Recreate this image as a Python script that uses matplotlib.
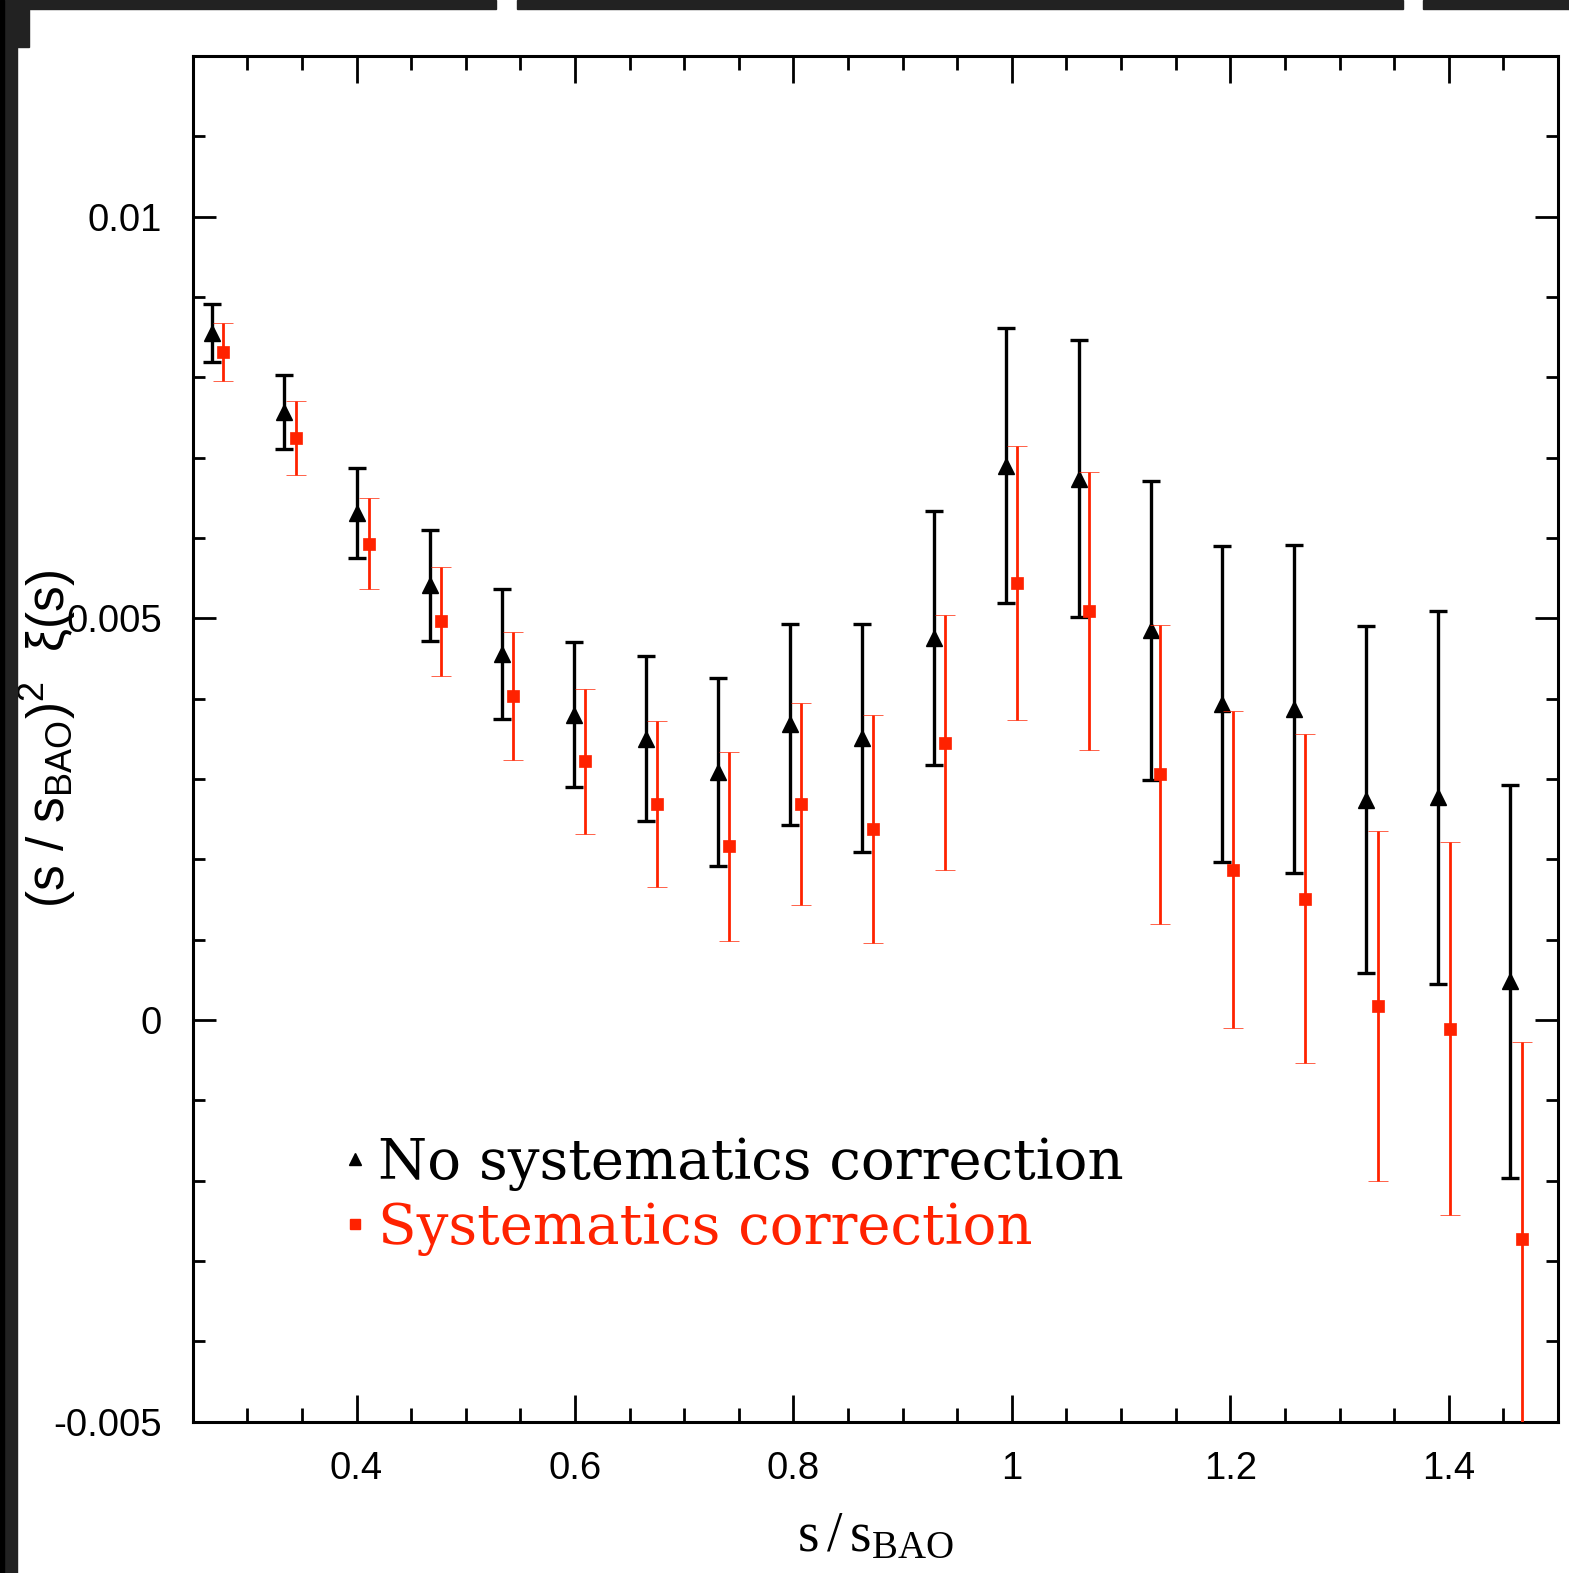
import matplotlib
matplotlib.use('Agg')
import matplotlib.pyplot as plt
from matplotlib.lines import Line2D
from matplotlib.patches import Rectangle

plt.rcParams['mathtext.fontset'] = 'custom'
plt.rcParams['mathtext.rm'] = 'Liberation Serif'
plt.rcParams['mathtext.sf'] = 'Liberation Sans'
plt.rcParams['mathtext.it'] = 'Liberation Sans:italic'

# no systematics correction (black triangles)
x_raw = [0.268, 0.334, 0.400, 0.467, 0.533, 0.599, 0.665, 0.731, 0.797, 0.863,
         0.929, 0.995, 1.061, 1.127, 1.192, 1.258, 1.324, 1.390, 1.456]
y_raw = [0.00855, 0.00757, 0.00631, 0.00541, 0.00455, 0.00380, 0.00350, 0.00309,
         0.00368, 0.00351, 0.00475, 0.00690, 0.00674, 0.00485, 0.00393, 0.00387,
         0.00274, 0.00277, 0.00048]
err_raw = [0.00036, 0.00046, 0.00056, 0.00069, 0.00081, 0.00090, 0.00103, 0.00117,
           0.00125, 0.00142, 0.00158, 0.00171, 0.00173, 0.00186, 0.00197, 0.00204,
           0.00216, 0.00232, 0.00245]

# systematics correction (red squares)
x_sys = [0.278, 0.345, 0.411, 0.477, 0.543, 0.609, 0.675, 0.741, 0.807, 0.873,
         0.939, 1.005, 1.071, 1.136, 1.202, 1.268, 1.335, 1.401, 1.467]
y_sys = [0.00832, 0.00724, 0.00593, 0.00496, 0.00403, 0.00322, 0.00269, 0.00216,
         0.00269, 0.00238, 0.00345, 0.00544, 0.00509, 0.00306, 0.00187, 0.00151,
         0.00017, -0.00011, -0.00273]
err_sys = [0.00036, 0.00046, 0.00057, 0.00068, 0.00080, 0.00090, 0.00103, 0.00118,
           0.00126, 0.00142, 0.00159, 0.00171, 0.00173, 0.00186, 0.00197, 0.00205,
           0.00218, 0.00232, 0.00246]

xticks = [0.4, 0.6, 0.8, 1.0, 1.2, 1.4]
xticklabels = ['0.4', '0.6', '0.8', '1', '1.2', '1.4']
yticks = [-0.005, 0, 0.005, 0.01]
yticklabels = ['-0.005', '0', '0.005', '0.01']

red = '#ff2200'

fig = plt.figure(figsize=(15.69, 15.73), dpi=100)
ax = fig.add_axes([0.1228, 0.0963, 0.8702, 0.8681])

ax.errorbar(x_raw, y_raw, yerr=err_raw, fmt='^', color='black', ms=11,
            elinewidth=2.4, capsize=6.5, capthick=2.4, zorder=3)
ax.errorbar(x_sys, y_sys, yerr=err_sys, fmt='s', color=red, ms=8.5, mew=0.5,
            elinewidth=2.0, capsize=7, capthick=2.0, zorder=4)

ax.set_xlim(0.25, 1.5)
ax.set_ylim(-0.005, 0.012)
ax.set_xticks(xticks)
ax.set_xticklabels(xticklabels)
ax.set_xticks([0.3, 0.35, 0.45, 0.5, 0.55, 0.65, 0.7, 0.75, 0.85, 0.9, 0.95,
               1.05, 1.1, 1.15, 1.25, 1.3, 1.35, 1.45], minor=True)
ax.set_yticks(yticks)
ax.set_yticklabels(yticklabels)
ax.set_yticks([-0.004, -0.003, -0.002, -0.001, 0.001, 0.002, 0.003, 0.004,
               0.006, 0.007, 0.008, 0.009, 0.011], minor=True)

ax.tick_params(which='both', direction='in', top=True, right=True, width=2,
               labelsize=27.5, colors='black')
ax.tick_params(axis='x', which='major', length=19.5, pad=21)
ax.tick_params(axis='x', which='minor', length=10)
ax.tick_params(axis='y', which='major', length=16.5, pad=22)
ax.tick_params(axis='y', which='minor', length=8.5)
for lab in ax.get_xticklabels() + ax.get_yticklabels():
    lab.set_family('Liberation Sans')
for sp in ax.spines.values():
    sp.set_linewidth(2.2)

ax.set_xlabel(r'$\mathrm{s\,/\,s_{BAO}}$', fontsize=40)
ax.xaxis.set_label_coords(0.5, -0.064)
ax.set_ylabel(r'$\mathsf{(s\,\,/\,\,s_{BAO})^2\ \ \xi(s)}$', fontsize=37)
ax.yaxis.set_label_coords(-0.084, 0.5)

handles = [Line2D([], [], ls='none', marker='^', color='black', ms=8),
           Line2D([], [], ls='none', marker='s', color=red, ms=6.5)]
ax.legend(handles, ['No systematics correction', 'Systematics correction'],
          loc='upper left', bbox_to_anchor=(0.111, 0.209), frameon=False,
          prop={'family': 'DejaVu Serif', 'size': 40.5}, labelcolor=['black', red],
          handlelength=0.4, handletextpad=0.2, labelspacing=0.18, borderpad=0,
          borderaxespad=0)

# screenshot frame around the plot
dark = '#222222'
W, H = 1569.0, 1573.0
for (x0, y0, w, h) in [(0, 0, 17, 1573), (0, 0, 29, 47), (0, 0, 496, 9),
                       (517, 0, 886, 9), (1423, 0, 146, 9)]:
    fig.patches.append(Rectangle((x0 / W, 1 - (y0 + h) / H), w / W, h / H,
                                 transform=fig.transFigure, color=dark, zorder=10))
fig.patches.append(Rectangle((0, 0), 4 / W, 1, transform=fig.transFigure,
                             color='black', zorder=11))

fig.savefig('out.png', dpi=100)
